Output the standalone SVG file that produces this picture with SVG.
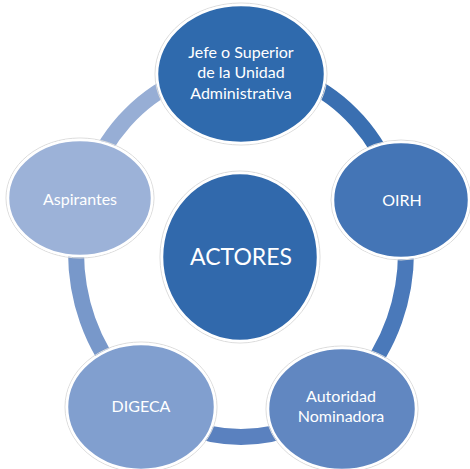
<svg xmlns="http://www.w3.org/2000/svg" width="470" height="469" viewBox="0 0 470 469">
<style>
.n{stroke:#ffffff;stroke-width:2.5}
.o{fill:none;stroke:#dcdcdc;stroke-width:1}
.t{fill:#ffffff;font-family:Lato,"Open Sans","Liberation Sans",sans-serif;font-size:16px;text-anchor:middle}
.big{font-size:23px}
.r{fill:none;stroke-width:16}
</style>
<rect width="470" height="469" fill="#ffffff"/>
<g id="connectors">
<clipPath id="c1"><polygon points="241,252 241,0 470,0 470,200"/></clipPath>
<clipPath id="c2"><polygon points="241,252 470,200 470,469 360,469"/></clipPath>
<clipPath id="c3"><polygon points="241,252 360,469 140,469"/></clipPath>
<clipPath id="c4"><polygon points="241,252 140,469 0,469 0,200"/></clipPath>
<clipPath id="c5"><polygon points="241,252 0,200 0,0 241,0"/></clipPath>
<ellipse class="r" cx="241" cy="252" rx="165" ry="185" stroke="#3a6fb1" clip-path="url(#c1)"/>
<ellipse class="r" cx="241" cy="252" rx="165" ry="185" stroke="#4a79ba" clip-path="url(#c2)"/>
<ellipse class="r" cx="241" cy="252" rx="165" ry="185" stroke="#5a81bf" clip-path="url(#c3)"/>
<ellipse class="r" cx="241" cy="252" rx="165" ry="185" stroke="#7898ca" clip-path="url(#c4)"/>
<ellipse class="r" cx="241" cy="252" rx="165" ry="185" stroke="#97aed5" clip-path="url(#c5)"/>
</g>
<g id="center">
<ellipse class="o" cx="240" cy="257" rx="80" ry="86"/>
<ellipse class="n" cx="240" cy="257" rx="78" ry="84" fill="#3169ac"/>
<text class="t big" x="241" y="265">ACTORES</text>
</g>
<g id="jefe">
<ellipse class="o" cx="241" cy="74" rx="86" ry="71"/>
<ellipse class="n" cx="241" cy="74" rx="84" ry="69" fill="#2f6aad"/>
<text class="t" x="241" y="58">Jefe o Superior</text>
<text class="t" x="241" y="78">de la Unidad</text>
<text class="t" x="241" y="99">Administrativa</text>
</g>
<g id="oirh">
<ellipse class="o" cx="401" cy="200" rx="70" ry="60"/>
<ellipse class="n" cx="401" cy="200" rx="68" ry="58" fill="#4475b6"/>
<text class="t" x="402" y="206">OIRH</text>
</g>
<g id="autoridad">
<ellipse class="o" cx="342" cy="409" rx="76" ry="63"/>
<ellipse class="n" cx="342" cy="409" rx="74" ry="61" fill="#6187c1"/>
<text class="t" x="341" y="402">Autoridad</text>
<text class="t" x="341" y="422">Nominadora</text>
</g>
<g id="digeca">
<ellipse class="o" cx="141" cy="407" rx="76" ry="65"/>
<ellipse class="n" cx="141" cy="407" rx="74" ry="63" fill="#819fcf"/>
<text class="t" x="141" y="412">DIGECA</text>
</g>
<g id="aspirantes">
<ellipse class="o" cx="80" cy="198" rx="74" ry="60"/>
<ellipse class="n" cx="80" cy="198" rx="72" ry="58" fill="#9cb2d8"/>
<text class="t" x="80" y="205">Aspirantes</text>
</g>
</svg>
